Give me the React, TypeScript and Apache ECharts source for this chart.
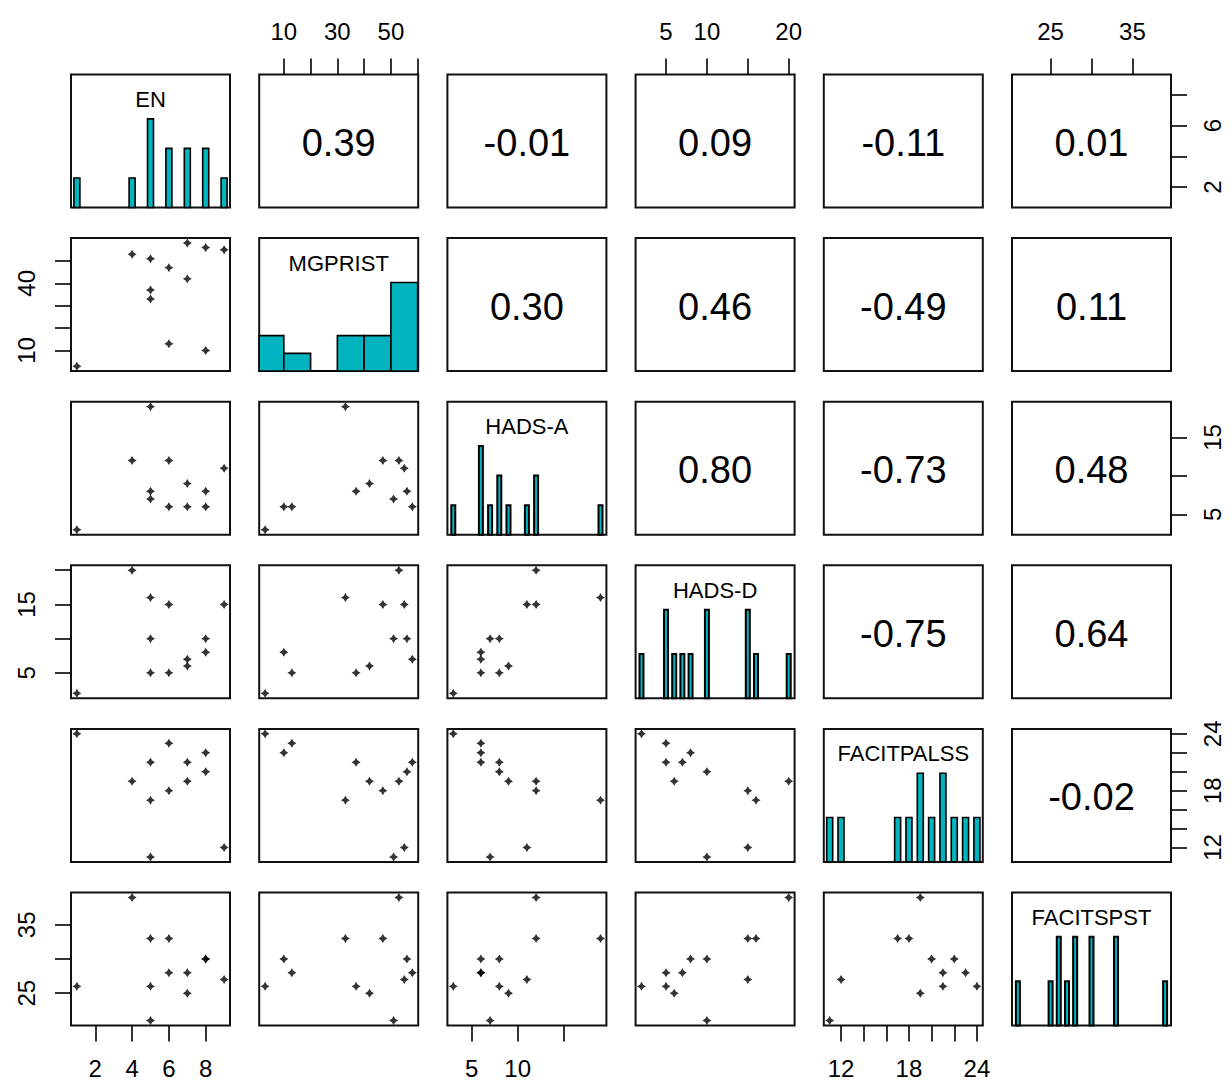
import React, { useEffect, useRef } from 'react';
import * as echarts from 'echarts';

// ---------- data (12 observations) ----------
const VAR_NAMES = ['EN', 'MGPRIST', 'HADS-A', 'HADS-D', 'FACITPALSS', 'FACITSPST'];
const EN = [1, 4, 5, 5, 5, 6, 6, 7, 7, 8, 8, 9];
const MGPRIST = [3, 53, 51, 37, 33, 47, 13, 58, 42, 56, 10, 55];
const HADS_A = [3, 12, 7, 8, 19, 12, 6, 6, 9, 8, 6, 11];
const HADS_D = [2, 20, 10, 5, 16, 15, 5, 7, 6, 10, 8, 15];
const FACITPALSS = [24, 19, 11, 21, 17, 18, 23, 21, 19, 20, 22, 12];
const FACITSPST = [26, 39, 21, 26, 33, 33, 28, 28, 25, 30, 30, 27];
const VARS = [EN, MGPRIST, HADS_A, HADS_D, FACITPALSS, FACITSPST];

// correlations shown in the upper panels (row, col)
const CORR_LABELS = [
  ['', '0.39', '-0.01', '0.09', '-0.11', '0.01'],
  ['', '', '0.30', '0.46', '-0.49', '0.11'],
  ['', '', '', '0.80', '-0.73', '0.48'],
  ['', '', '', '', '-0.75', '0.64'],
  ['', '', '', '', '', '-0.02'],
  ['', '', '', '', '', ''],
];

// histogram breaks for MGPRIST (other variables: one bar per distinct value)
const MG_BREAKS = [0, 10, 20, 30, 40, 50, 60];

// outer axes ticks / labels
const X_TICKS = [[2, 4, 6, 8], [10, 20, 30, 40, 50, 60], [5, 10, 15], [5, 10, 15, 20], [12, 14, 16, 18, 20, 22, 24], [25, 30, 35]];
const X_LABELS = [[2, 4, 6, 8], [10, 30, 50], [5, 10], [5, 10, 20], [12, 18, 24], [25, 35]];
const Y_TICKS = [[2, 4, 6, 8], [10, 20, 30, 40, 50], [5, 10, 15], [5, 10, 15, 20], [12, 14, 16, 18, 20, 22, 24], [25, 30, 35]];
const Y_LABELS = [[2, 6], [10, 40], [5, 15], [5, 15], [12, 18, 24], [25, 35]];

// ---------- layout / style ----------
const FONT = "'Liberation Sans', Arial, sans-serif";
const CYAN = '#00B4C0';
const COL0 = 71;
const DX = 188.2;
const ROW0 = 74.5;
const DY = 163.6;
const W = 159;
const H = 133;
const BAR_PX = [6, 0, 4, 4, 6, 4];
const BAR_LW = [1.6, 1.6, 2, 2, 1.6, 2];
const STAR = 'path://M0,-5L1.9,-1.9L5,0L1.9,1.9L0,5L-1.9,1.9L-5,0L-1.9,-1.9Z';

function histData(i: number): number[][] {
  const v = VARS[i];
  if (i === 1) {
    const out: number[][] = [];
    for (let k = 0; k < MG_BREAKS.length - 1; k++) {
      const lo = MG_BREAKS[k];
      const hi = MG_BREAKS[k + 1];
      const cnt = v.filter((x) => (k === 0 ? x >= lo : x > lo) && x <= hi).length;
      out.push([lo, hi, cnt]);
    }
    return out;
  }
  const m = new Map<number, number>();
  v.forEach((x) => m.set(x, (m.get(x) || 0) + 1));
  return Array.from(m.entries()).map(([x, c]) => [x, x, c]);
}

function buildOption() {
  const n = VARS.length;
  const ranges = VARS.map((v) => {
    const lo = Math.min(...v);
    const hi = Math.max(...v);
    const p = (hi - lo) * 0.04;
    return [lo - p, hi + p];
  });
  const grids: any[] = [];
  const xAxes: any[] = [];
  const yAxes: any[] = [];
  const series: any[] = [];
  const graphics: any[] = [];
  const tickStyle = { show: true, length: 16, inside: false, lineStyle: { color: '#000', width: 1.6 } };
  const labelStyle = { show: true, fontSize: 24, color: '#000', fontFamily: FONT, margin: 31 };

  for (let r = 0; r < n; r++) {
    for (let c = 0; c < n; c++) {
      const idx = r * n + c;
      const left = COL0 + c * DX;
      const top = ROW0 + r * DY;
      grids.push({
        left, top, width: W, height: H, show: true,
        borderColor: '#111', borderWidth: 2, backgroundColor: 'transparent',
        containLabel: false, outerBoundsMode: 'none',
      });
      const showX = (r === 0 && c % 2 === 1) || (r === n - 1 && c % 2 === 0);
      const showY = (c === 0 && r % 2 === 1) || (c === n - 1 && r % 2 === 0);
      xAxes.push({
        type: 'value', gridIndex: idx, min: ranges[c][0], max: ranges[c][1],
        position: r === 0 ? 'top' : 'bottom',
        axisLine: { show: false }, splitLine: { show: false },
        axisTick: showX ? { ...tickStyle, customValues: X_TICKS[c] } : { show: false },
        axisLabel: showX ? { ...labelStyle, customValues: X_LABELS[c] } : { show: false },
      });
      let yMin = ranges[r][0];
      let yMax = ranges[r][1];
      let hist: number[][] | null = null;
      if (r === c) {
        hist = histData(r);
        const maxC = Math.max(...hist.map((h) => h[2]));
        yMin = 0;
        yMax = maxC * 1.5;
      }
      yAxes.push({
        type: 'value', gridIndex: idx, min: yMin, max: yMax,
        position: c === n - 1 ? 'right' : 'left',
        axisLine: { show: false }, splitLine: { show: false },
        axisTick: showY ? { ...tickStyle, customValues: Y_TICKS[r] } : { show: false },
        axisLabel: showY ? { ...labelStyle, margin: c === 0 ? 33 : 29, rotate: 90, customValues: Y_LABELS[r] } : { show: false },
      });

      if (r > c) {
        series.push({
          type: 'scatter', xAxisIndex: idx, yAxisIndex: idx,
          data: VARS[c].map((x, k) => [x, VARS[r][k]]),
          symbol: STAR, symbolSize: 9, itemStyle: { color: '#000' }, silent: true,
        });
      } else if (r === c && hist) {
        const bw = BAR_PX[r];
        const lw = BAR_LW[r];
        series.push({
          type: 'custom', xAxisIndex: idx, yAxisIndex: idx, data: hist, silent: true,
          renderItem: (params: any, api: any) => {
            const x0 = api.value(0);
            const x1 = api.value(1);
            const cnt = api.value(2);
            const a = api.coord([x0, 0]);
            const b = api.coord([x1, cnt]);
            let lx = a[0];
            let rx = b[0];
            if (x0 === x1) {
              lx = a[0] - bw / 2;
              rx = a[0] + bw / 2;
            }
            const cs = params.coordSys;
            lx = Math.max(lx, cs.x);
            rx = Math.min(rx, cs.x + cs.width);
            return {
              type: 'rect',
              shape: { x: lx, y: b[1], width: rx - lx, height: a[1] - b[1] },
              style: { fill: CYAN, stroke: '#000', lineWidth: lw },
            };
          },
        });
        graphics.push({
          type: 'text', x: left + W / 2, y: top + 25, silent: true,
          style: {
            text: VAR_NAMES[r], fontSize: 22, fontFamily: FONT, fill: '#000',
            textAlign: 'center', textVerticalAlign: 'middle', align: 'center', verticalAlign: 'middle',
          },
        });
      } else {
        graphics.push({
          type: 'text', x: left + W / 2, y: top + H / 2 + 2, silent: true,
          style: {
            text: CORR_LABELS[r][c], fontSize: 38, fontFamily: FONT, fill: '#000',
            textAlign: 'center', textVerticalAlign: 'middle', align: 'center', verticalAlign: 'middle',
          },
        });
      }
    }
  }
  return {
    animation: false,
    backgroundColor: '#fff',
    grid: grids,
    xAxis: xAxes,
    yAxis: yAxes,
    series,
    graphic: graphics,
  };
}

export default function App() {
  const ref = useRef<HTMLDivElement>(null);
  useEffect(() => {
    const chart = echarts.init(ref.current as HTMLDivElement, null, { renderer: 'svg' });
    chart.setOption(buildOption() as any);
    return () => chart.dispose();
  }, []);
  return (
    <div
      ref={ref}
      style={{ position: 'fixed', left: 0, top: 0, width: 1232, height: 1084, background: '#fff' }}
    />
  );
}
